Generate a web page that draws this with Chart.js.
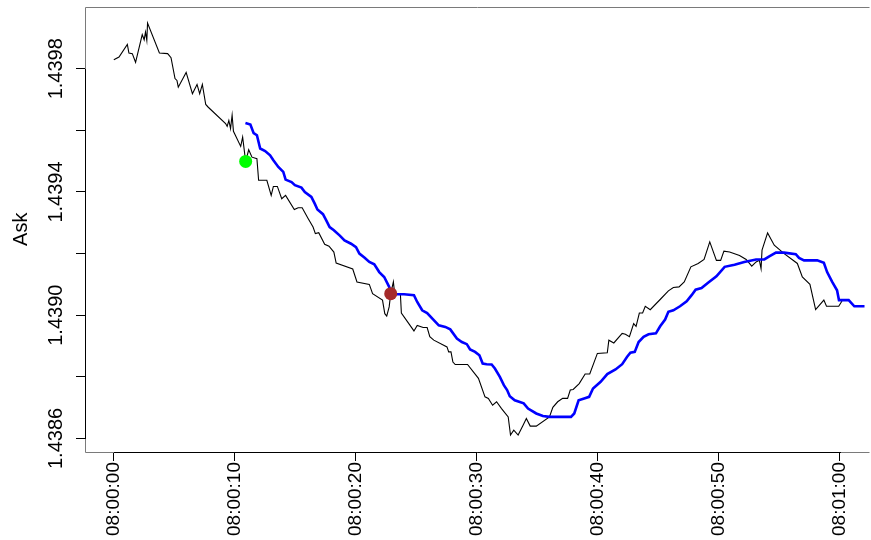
<!DOCTYPE html>
<html>
<head>
<meta charset="utf-8">
<script src="https://cdn.jsdelivr.net/npm/chart.js@4.4.1/dist/chart.umd.min.js"></script>
<style>
  html, body { margin: 0; padding: 0; background: #ffffff; overflow: hidden; }
  canvas { display: block; }
</style>
</head>
<body>
<canvas id="chart" width="871" height="540"></canvas>
<script>
// Ask quotes: seconds after 08:00:00 and price
const askTime = [0.01,0.44,1.13,1.26,1.54,1.81,2.36,2.52,2.63,2.74,
  2.80,3.78,4.46,4.74,5.07,5.23,5.34,5.99,6.51,6.89,
  7.11,7.33,7.61,7.82,9.25,9.38,9.52,9.66,9.79,9.90,
  10.50,10.66,10.91,11.16,11.43,11.84,11.98,12.66,13.02,13.20,
  13.53,13.89,14.21,14.93,15.25,15.58,16.07,16.48,16.67,16.95,
  17.44,17.80,18.20,18.39,19.76,20.11,21.13,21.40,22.22,22.41,
  22.57,22.77,22.90,23.12,23.23,23.70,23.78,24.82,25.09,25.58,
  25.91,26.13,26.46,27.55,27.69,27.88,28.04,28.23,29.25,30.15,
  30.69,30.97,31.32,31.65,32.06,32.61,32.80,33.07,33.43,33.84,
  34.11,34.43,34.93,36.02,36.30,36.70,37.11,37.52,37.74,37.98,
  38.48,38.97,39.35,39.98,40.80,40.93,41.34,42.03,42.30,42.63,
  42.98,43.18,43.45,43.72,43.94,44.35,45.17,45.85,46.26,46.73,
  47.16,47.71,48.31,48.80,49.27,49.82,50.17,50.44,50.91,51.73,
  52.28,52.74,53.10,53.37,53.51,53.59,54.05,54.60,55.42,56.51,
  56.92,57.55,58.02,58.70,58.92,59.93,60.20];
const askPrice = [1.439829,1.439838,1.439879,1.439851,1.439849,1.439821,1.439911,1.439894,1.439919,1.439892,
  1.439948,1.439851,1.439849,1.439836,1.439768,1.439762,1.439740,1.439788,1.439719,1.439749,
  1.439719,1.439749,1.439684,1.439675,1.439622,1.439613,1.439632,1.439606,1.439649,1.439597,
  1.439548,1.439578,1.439499,1.439537,1.439513,1.439508,1.439438,1.439438,1.439389,1.439418,
  1.439418,1.439378,1.439389,1.439343,1.439349,1.439349,1.439314,1.439286,1.439265,1.439268,
  1.439230,1.439224,1.439205,1.439169,1.439150,1.439108,1.439100,1.439070,1.439049,1.439005,
  1.438997,1.439027,1.439070,1.439108,1.439068,1.439068,1.439007,1.438949,1.438967,1.438960,
  1.438960,1.438930,1.438919,1.438897,1.438881,1.438881,1.438848,1.438840,1.438840,1.438795,
  1.438735,1.438730,1.438708,1.438719,1.438697,1.438670,1.438611,1.438627,1.438611,1.438643,
  1.438665,1.438640,1.438640,1.438670,1.438701,1.438719,1.438730,1.438730,1.438757,1.438759,
  1.438778,1.438809,1.438809,1.438876,1.438878,1.438919,1.438910,1.438941,1.438938,1.438930,
  1.438973,1.438964,1.439007,1.439007,1.439029,1.439018,1.439051,1.439079,1.439090,1.439092,
  1.439108,1.439157,1.439168,1.439181,1.439238,1.439178,1.439178,1.439208,1.439205,1.439194,
  1.439181,1.439159,1.439173,1.439178,1.439151,1.439211,1.439267,1.439227,1.439200,1.439168,
  1.439124,1.439100,1.439018,1.439049,1.439029,1.439029,1.439046];

// Moving average of the ask
const maTime = [10.89,11.30,11.57,11.84,12.11,12.52,12.93,13.20,13.61,14.02,
  14.21,14.70,14.98,15.52,15.80,16.34,16.62,16.84,17.30,17.57,
  17.85,18.20,18.67,19.08,19.62,20.03,20.31,20.72,21.13,21.54,
  21.95,22.36,22.77,22.96,24.00,24.82,25.09,25.50,25.91,26.46,
  26.87,27.41,27.82,28.37,28.78,29.19,29.46,29.87,30.23,30.50,
  30.83,31.24,31.51,31.92,32.25,32.52,32.74,33.15,33.51,33.89,
  34.25,34.93,35.48,36.02,37.80,38.07,38.43,38.89,39.30,39.62,
  40.25,40.80,41.48,42.03,42.44,42.71,43.07,43.39,43.80,44.21,
  44.82,45.17,45.58,45.85,46.26,46.81,47.36,47.77,48.10,48.59,
  49.13,49.82,50.50,51.32,52.12,53.10,53.78,54.19,54.74,55.42,
  56.38,56.65,57.06,58.15,58.70,58.97,59.39,59.79,59.95,60.75,
  61.22,62.30];
const maAsk = [1.439624,1.439619,1.439591,1.439584,1.439541,1.439533,1.439519,1.439503,1.439481,1.439465,
  1.439440,1.439432,1.439422,1.439414,1.439400,1.439384,1.439362,1.439343,1.439328,1.439308,
  1.439286,1.439276,1.439259,1.439243,1.439232,1.439221,1.439200,1.439187,1.439173,1.439165,
  1.439140,1.439124,1.439092,1.439068,1.439068,1.439065,1.439043,1.439016,1.439007,1.438984,
  1.438967,1.438962,1.438954,1.438924,1.438913,1.438906,1.438889,1.438881,1.438870,1.438843,
  1.438841,1.438840,1.438827,1.438800,1.438773,1.438757,1.438737,1.438724,1.438719,1.438714,
  1.438697,1.438681,1.438673,1.438670,1.438670,1.438681,1.438724,1.438730,1.438735,1.438762,
  1.438784,1.438809,1.438824,1.438841,1.438865,1.438878,1.438881,1.438913,1.438930,1.438938,
  1.438941,1.438964,1.438986,1.439011,1.439016,1.439029,1.439045,1.439065,1.439083,1.439088,
  1.439105,1.439126,1.439157,1.439164,1.439173,1.439181,1.439181,1.439191,1.439203,1.439203,
  1.439198,1.439186,1.439178,1.439178,1.439170,1.439140,1.439108,1.439081,1.439049,1.439049,
  1.439029,1.439029];

// Signal markers
const entryTime = [10.91];
const entryPrice = [1.439499];
const exitTime = [22.90];
const exitPrice = [1.439070];

// Axis ticks
const xTicks = [0, 10, 20, 30, 40, 50, 60];
const yTicks = [1.4386, 1.4388, 1.4390, 1.4392, 1.4394, 1.4396, 1.4398];
const yLabelled = ['1.4386', '1.4390', '1.4394', '1.4398'];

const FONT = '"Liberation Sans", Arial, Helvetica, sans-serif';

const pts = (ts, vs) => ts.map((t, i) => ({ x: t, y: vs[i] }));

function clockLabel(sec) {
  const m = Math.floor(sec / 60), s = Math.round(sec - m * 60);
  return '08:' + String(m).padStart(2, '0') + ':' + String(s).padStart(2, '0');
}

// Frame, axis lines, rotated y labels and the y title
const framePlugin = {
  id: 'frame',
  afterDraw(chart) {
    const { ctx, chartArea: a, scales: { x, y } } = chart;
    ctx.save();
    ctx.lineWidth = 1;
    ctx.strokeStyle = '#7a7a7a';
    ctx.beginPath();
    ctx.moveTo(a.right + 5, Math.round(a.top) + 0.5);
    ctx.lineTo(Math.round(a.left) + 0.5, Math.round(a.top) + 0.5);
    ctx.lineTo(Math.round(a.left) + 0.5, Math.round(a.bottom) + 0.5);
    ctx.lineTo(a.right + 5, Math.round(a.bottom) + 0.5);
    ctx.stroke();

    ctx.strokeStyle = '#000000';
    ctx.beginPath();
    const bx = Math.round(a.bottom) + 0.5;
    ctx.moveTo(Math.round(x.getPixelForValue(xTicks[0])), bx);
    ctx.lineTo(Math.round(x.getPixelForValue(xTicks[xTicks.length - 1])) + 1, bx);
    const lx = Math.round(a.left) + 0.5;
    ctx.moveTo(lx, Math.round(y.getPixelForValue(yTicks[0])) + 1);
    ctx.lineTo(lx, Math.round(y.getPixelForValue(yTicks[yTicks.length - 1])));
    ctx.stroke();

    ctx.fillStyle = '#000000';
    ctx.font = '20px ' + FONT;
    ctx.textAlign = 'center';
    ctx.textBaseline = 'alphabetic';
    yLabelled.forEach(lbl => {
      const py = y.getPixelForValue(parseFloat(lbl));
      ctx.save();
      ctx.translate(62, py);
      ctx.rotate(-Math.PI / 2);
      ctx.fillText(lbl, 0, 0);
      ctx.restore();
    });
    ctx.save();
    ctx.translate(27, (a.top + a.bottom) / 2);
    ctx.rotate(-Math.PI / 2);
    ctx.fillText('Ask', 0, 0);
    ctx.restore();
    ctx.restore();
  }
};

new Chart(document.getElementById('chart'), {
  type: 'line',
  data: {
    datasets: [
      { label: 'entry', data: pts(entryTime, entryPrice), showLine: false,
        pointRadius: 6.5, pointBackgroundColor: '#00ff00', pointBorderWidth: 0, order: 1 },
      { label: 'exit', data: pts(exitTime, exitPrice), showLine: false,
        pointRadius: 6.5, pointBackgroundColor: '#a52a2a', pointBorderWidth: 0, order: 1 },
      { label: 'MA', data: pts(maTime, maAsk), borderColor: '#0000ff', borderWidth: 2.6,
        pointRadius: 0, tension: 0, fill: false, order: 2 },
      { label: 'Ask', data: pts(askTime, askPrice), borderColor: '#000000', borderWidth: 1.1,
        pointRadius: 0, tension: 0, fill: false, order: 3 }
    ]
  },
  options: {
    responsive: false,
    animation: false,
    devicePixelRatio: 1,
    layout: { padding: { top: 6, right: 0, left: 0, bottom: 0 } },
    plugins: { legend: { display: false }, tooltip: { enabled: false } },
    scales: {
      x: {
        type: 'linear',
        min: -2.37,
        max: 62.06,
        afterBuildTicks: s => { s.ticks = xTicks.map(v => ({ value: v })); },
        afterFit: s => { s.height = 88; },
        ticks: {
          autoSkip: false, minRotation: 90, maxRotation: 90, padding: 1,
          color: '#000000', font: { family: FONT, size: 19 },
          callback: v => clockLabel(v)
        },
        grid: { drawOnChartArea: false, drawTicks: true, tickLength: 9, color: '#000000', lineWidth: 1 },
        border: { display: false }
      },
      y: {
        type: 'linear',
        min: 1.438556,
        max: 1.440002,
        afterBuildTicks: s => { s.ticks = yTicks.map(v => ({ value: v })); },
        afterFit: s => { s.width = 85; },
        ticks: { display: false },
        grid: { drawOnChartArea: false, drawTicks: true, tickLength: 9, color: '#000000', lineWidth: 1 },
        border: { display: false }
      }
    }
  },
  plugins: [framePlugin]
});
</script>
</body>
</html>
